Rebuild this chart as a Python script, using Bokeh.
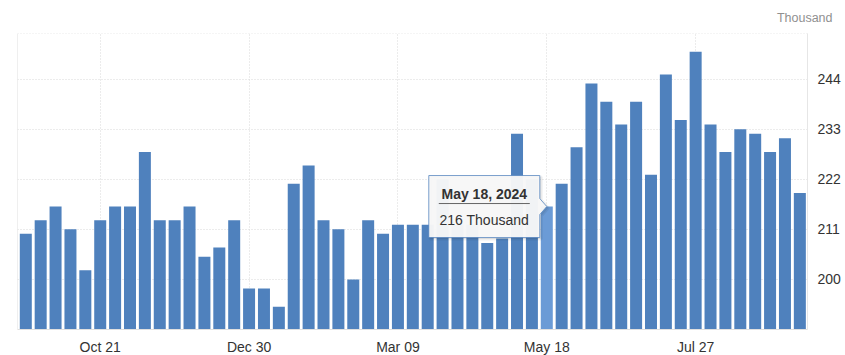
import datetime as dt
import pandas as pd
from bokeh.plotting import figure
from bokeh.models import (ColumnDataSource, Range1d, LinearAxis, FixedTicker,
                          DatetimeTickFormatter, Span, Title)
from bokeh.core.properties import value
from bokeh.embed import file_html
from bokeh.resources import INLINE

# ---- data -------------------------------------------------------------
start_week = "2023-09-16"
claims = [210, 213, 216, 211, 202, 213, 216, 216, 228, 213,
          213, 216, 205, 207, 213, 198, 198, 194, 221, 225,
          213, 211, 200, 213, 210, 212, 212, 212, 222, 212,
          212, 208, 209, 232, 222, 216, 221, 229, 243, 239,
          234, 239, 223, 245, 235, 250, 234, 228, 233, 232,
          228, 231, 219]
y_ticks = [200, 211, 222, 233, 244]
x_tick_dates = ["2023-10-21", "2023-12-30", "2024-03-09", "2024-05-18", "2024-07-27"]
unit_label = "Thousand"
tip_date = "2024-05-18"
tip_title = "May 18, 2024"
tip_text = "216 Thousand"

dates = pd.date_range(start_week, periods=len(claims), freq="7D")
tip_ts = pd.Timestamp(tip_date)
tip_val = claims[list(dates).index(tip_ts)]

BAR = "#4f81bd"
HI = "#6b9bd6"
colors = [HI if d == tip_ts else BAR for d in dates]

# ---- geometry -----------------------------------------------------------
FW, FH = 790, 296
x_start = dates[0] - pd.Timedelta(days=3.9)
x_end = dates[-1] + pd.Timedelta(days=3.6)
span_days = (x_end - x_start) / pd.Timedelta(days=1)
px_day = FW / span_days
y0, y1 = 189, 254
px_unit = FH / (y1 - y0)

def ms(ts):
    return pd.Timestamp(ts).value / 1e6

def dx(px):
    return pd.Timedelta(days=px / px_day)

def dy(px):  # px positive = up
    return px / px_unit

src = ColumnDataSource(dict(x=dates, top=claims, color=colors))

p = figure(frame_width=FW, frame_height=FH, output_backend="svg",
           toolbar_location=None, x_axis_type="datetime",
           x_range=Range1d(ms(x_start), ms(x_end)), y_range=Range1d(y0, y1),
           y_axis_location=None, min_border_left=17, min_border_top=32,
           min_border_bottom=18, min_border_right=26, title=None)
p.outline_line_color = None
p.background_fill_color = "white"
p.border_fill_color = "white"

# grid
p.xgrid.ticker = FixedTicker(ticks=[ms(d) for d in x_tick_dates])
p.xgrid.grid_line_color = "#d8d8d8"
p.xgrid.grid_line_dash = "1 2"
p.ygrid.grid_line_color = "#d8d8d8"
p.ygrid.grid_line_dash = "1 2"

p.add_layout(Span(location=y1, dimension="width", line_color="#d8d8d8",
                  line_dash="1 2", line_width=1))
p.add_layout(Span(location=ms(x_start), dimension="height", line_color="#e0e0e0",
                  line_width=1))

# axes
xa = p.xaxis[0]
xa.ticker = FixedTicker(ticks=[ms(d) for d in x_tick_dates])
xa.formatter = DatetimeTickFormatter(milliseconds="%b %d", seconds="%b %d",
                                     minsec="%b %d", minutes="%b %d",
                                     hourmin="%b %d", hours="%b %d",
                                     days="%b %d", months="%b %d", years="%b %d")
xa.major_tick_line_color = None
xa.minor_tick_line_color = None
xa.axis_line_color = "#e0e0e0"
xa.major_label_text_font = "Liberation Sans"
xa.major_label_text_font_size = "14px"
xa.major_label_text_color = "#333333"
xa.major_label_standoff = 3

ya = LinearAxis(ticker=FixedTicker(ticks=y_ticks))
ya.major_tick_line_color = None
ya.minor_tick_line_color = None
ya.axis_line_color = "#e6e6e6"
ya.major_label_text_font = "Liberation Sans"
ya.major_label_text_font_size = "14px"
ya.major_label_text_color = "#333333"
ya.major_label_standoff = 4
p.add_layout(ya, "right")
p.ygrid.ticker = FixedTicker(ticks=y_ticks)

# bars
bar_w = pd.Timedelta(days=12 / px_day).total_seconds() * 1000
p.vbar(x="x", top="top", bottom=y0, width=bar_w, color="color",
       line_color=None, source=src)

# unit label (above the frame, right-aligned)
p.add_layout(Title(text=unit_label, align="right", offset=-25, standoff=17,
                   text_font="Liberation Sans", text_font_size="12.5px",
                   text_font_style="normal", text_color="#909090"), "above")

# tooltip (anchored to highlighted bar)
def box(ox=0, oy=0):
    pts = [(-118, 31), (-7, 31), (-7, 8), (0, 0), (-7, -8), (-7, -31), (-118, -31)]
    xs = [tip_ts + dx(a + ox) for a, b in pts]
    ys = [tip_val + dy(b - oy) for a, b in pts]
    return xs, ys

sx, sy = box(1.5, 1.5)
p.patch(sx, sy, fill_color="black", fill_alpha=0.07, line_color="black",
        line_alpha=0.06, line_width=3)
bx, by = box()
p.patch(bx, by, fill_color="#f7f7f7", fill_alpha=0.97, line_color="#4f81bd",
        line_alpha=0.75, line_width=1)
p.line([tip_ts + dx(-108), tip_ts + dx(-17)], [tip_val + dy(3)] * 2,
       line_color="#666666", line_width=1)
p.text(x=[tip_ts + dx(-62.5)], y=[tip_val + dy(13)], text=[tip_title],
       text_align="center", text_baseline="middle",
       text_font=value("Liberation Sans"), text_font_size="14px",
       text_font_style="bold", text_color="#333333")
p.text(x=[tip_ts + dx(-62.5)], y=[tip_val + dy(-13)], text=[tip_text],
       text_align="center", text_baseline="middle",
       text_font=value("Liberation Sans"), text_font_size="14px",
       text_color="#333333")

open("out.html", "w").write(file_html(p, INLINE))
